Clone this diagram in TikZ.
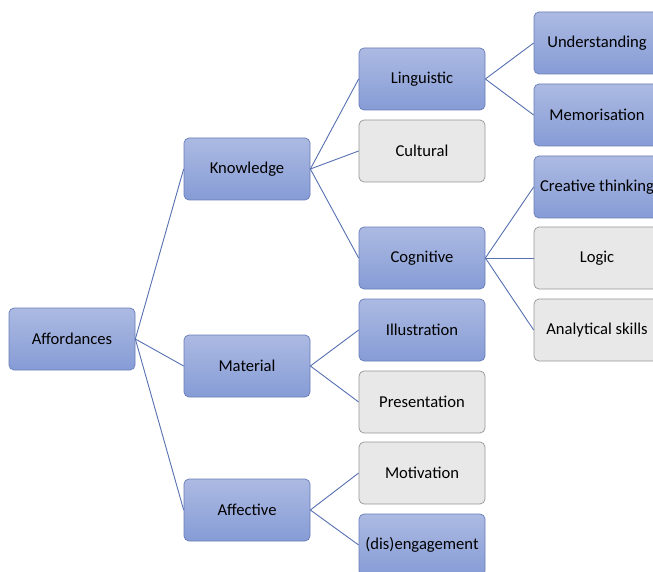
\documentclass[tikz,border=0pt]{standalone}
\usepackage{fontspec}
\setmainfont{Carlito}
\definecolor{bluetop}{RGB}{172,186,226}
\definecolor{bluebot}{RGB}{134,156,214}
\definecolor{blueedge}{RGB}{104,124,184}
\definecolor{grayfill}{RGB}{232,232,232}
\definecolor{grayedge}{RGB}{150,150,150}
\definecolor{linkcol}{RGB}{86,112,176}
\begin{document}
\begin{tikzpicture}[x=1pt,y=-1pt,
  box/.style={rounded corners=5pt,minimum width=126pt,minimum height=62pt,inner sep=0pt,
    font=\fontsize{16.6}{19}\selectfont,text=black,line width=0.7pt},
  bluebox/.style={box,draw=blueedge,top color=bluetop,bottom color=bluebot},
  graybox/.style={box,draw=grayedge,fill=grayfill},
  link/.style={draw=linkcol,line width=0.9pt}]
\useasboundingbox (0,0) rectangle (653,572);
\clip (0,0) rectangle (653,572);
\node[bluebox] (aff) at (72,339) {Affordances};
\node[bluebox] (know) at (247,169) {Knowledge};
\node[bluebox] (mat) at (247,366) {Material};
\node[bluebox] (affe) at (247,510) {Affective};
\node[bluebox] (ling) at (422,79) {Linguistic};
\node[graybox] (cult) at (422,151) {Cultural};
\node[bluebox] (cog) at (422,258) {Cognitive};
\node[bluebox] (ill) at (422,330) {Illustration};
\node[graybox] (pres) at (422,402) {Presentation};
\node[graybox] (mot) at (422,473) {Motivation};
\node[bluebox] (dis) at (422,545) {(dis)engagement};
\node[bluebox] (und) at (597,43) {Understanding};
\node[bluebox] (mem) at (597,115) {Memorisation};
\node[bluebox] (cre) at (597,187) {Creative thinking};
\node[graybox] (log) at (597,258) {Logic};
\node[graybox] (ana) at (597,330) {Analytical skills};
\foreach \a/\b in {aff/know,aff/mat,aff/affe,know/ling,know/cult,know/cog,mat/ill,mat/pres,affe/mot,affe/dis,ling/und,ling/mem,cog/cre,cog/log,cog/ana}
  \path[link] (\a.east) -- (\b.west);
\end{tikzpicture}
\end{document}
